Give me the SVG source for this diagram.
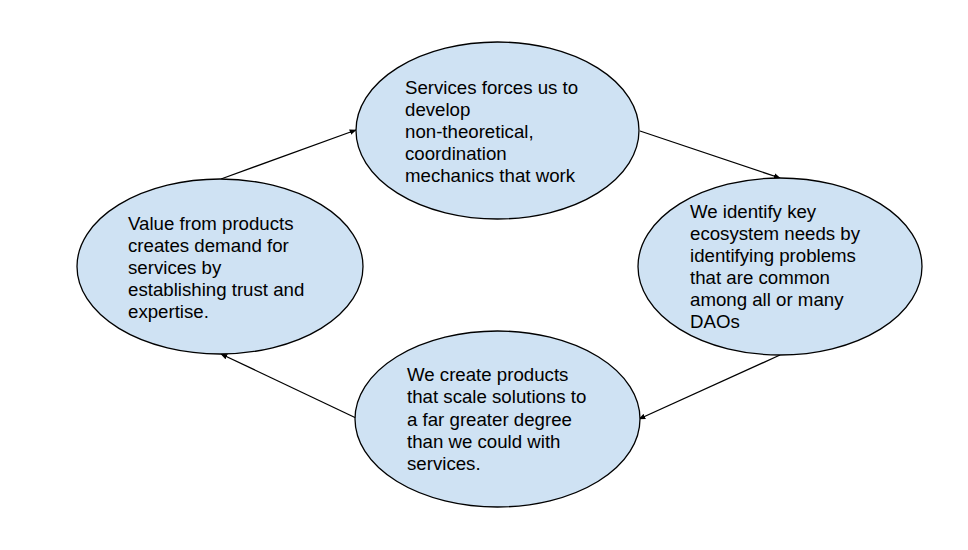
<svg xmlns="http://www.w3.org/2000/svg" width="968" height="550" viewBox="0 0 968 550">
<style>
.node ellipse{fill:#cfe2f3;stroke:#000;stroke-width:1.3}
.node text{font-family:"Liberation Sans",Arial,sans-serif;font-size:18.67px;fill:#000}
.conn line{stroke:#000;stroke-width:1.3;fill:none;marker-end:url(#ah)}
</style>
<defs>
<marker id="ah" viewBox="0 0 10 10" refX="9" refY="5" markerWidth="7" markerHeight="7" markerUnits="userSpaceOnUse" orient="auto">
<path d="M0,1 L10,5 L0,9 z" fill="#000"/>
</marker>
</defs>
<rect width="968" height="550" fill="#fff"/>
<g class="conn">
<line x1="221" y1="179" x2="356" y2="130"/>
<line x1="640" y1="131" x2="780" y2="178"/>
<line x1="780" y1="355" x2="639" y2="419"/>
<line x1="356" y1="418" x2="221" y2="354"/>
</g>
<g id="top" class="node">
<ellipse cx="497.5" cy="130.5" rx="141.5" ry="88.5"/>
<text><tspan x="405" y="94">Services forces us to</tspan><tspan x="405" y="116">develop</tspan><tspan x="405" y="138">non-theoretical,</tspan><tspan x="405" y="160">coordination</tspan><tspan x="405" y="182">mechanics that work</tspan></text>
</g>
<g id="right" class="node">
<ellipse cx="780" cy="266.5" rx="142" ry="88.5"/>
<text><tspan x="690" y="218">We identify key</tspan><tspan x="690" y="240">ecosystem needs by</tspan><tspan x="690" y="262">identifying problems</tspan><tspan x="690" y="284">that are common</tspan><tspan x="690" y="306">among all or many</tspan><tspan x="690" y="328">DAOs</tspan></text>
</g>
<g id="bottom" class="node">
<ellipse cx="497.5" cy="419" rx="142.5" ry="88"/>
<text><tspan x="407" y="381">We create products</tspan><tspan x="407" y="403">that scale solutions to</tspan><tspan x="407" y="426">a far greater degree</tspan><tspan x="407" y="448">than we could with</tspan><tspan x="407" y="470">services.</tspan></text>
</g>
<g id="left" class="node">
<ellipse cx="220" cy="266.5" rx="143" ry="87.5"/>
<text><tspan x="128" y="230">Value from products</tspan><tspan x="128" y="252">creates demand for</tspan><tspan x="128" y="274">services by</tspan><tspan x="128" y="296">establishing trust and</tspan><tspan x="128" y="318">expertise.</tspan></text>
</g>
</svg>
